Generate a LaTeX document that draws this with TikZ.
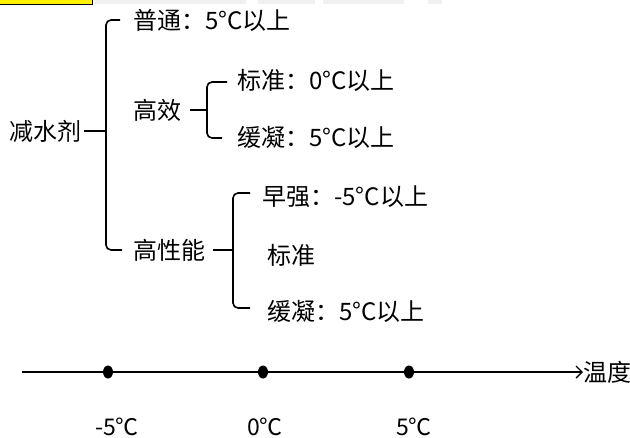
\documentclass[tikz,border=0pt]{standalone}
\usepackage{fontspec}
\setmainfont{Noto Sans CJK SC}
\usetikzlibrary{arrows.meta,shapes.geometric}
\begin{document}
\begin{tikzpicture}[x=1pt,y=-1pt,
  lbl/.style={anchor=west,inner sep=0pt,font=\fontsize{24}{28}\selectfont},
  axlbl/.style={anchor=center,inner sep=0pt,font=\fontsize{23}{27}\selectfont},
  brk/.style={line width=1.6pt,rounded corners=5pt},
  dotn/.style={ellipse,fill=black,inner sep=0pt,minimum width=10pt,minimum height=13pt},
  axis/.style={line width=1.6pt,-{Straight Barb[length=6pt,width=12pt,line width=1.4pt]}}]
\useasboundingbox (0,0) rectangle (630,437);
% top strip
\fill[gray!12] (95,-1) rectangle (246,4);
\fill[gray!12] (258,-1) rectangle (315,4);
\fill[gray!12] (323,-1) rectangle (404,4);
\fill[gray!12] (428,-1) rectangle (442,4);
\draw[fill=yellow,line width=1pt] (-2,-2) rectangle (92,4);
% labels
\node[lbl] (root) at (9,131) {减水剂};
\node[lbl] (pt) at (133,20) {普通：5°C以上};
\node[lbl] (gx) at (133,110) {高效};
\node[lbl] (gx1) at (237,80) {标准：0°C以上};
\node[lbl] (gx2) at (237,137) {缓凝：5°C以上};
\node[lbl] (gxn) at (133,250) {高性能};
\node[lbl] (h1) at (262,197) {早强：-5°C以上};
\node[lbl] (h2) at (267,255) {标准};
\node[lbl] (h3) at (267,311) {缓凝：5°C以上};
% spine coordinates
\coordinate (s0) at (106,131);
\coordinate (s1) at (207,110);
\coordinate (s2) at (233,250);
% main bracket
\draw[brk] ([xshift=-13pt]pt.west) -| (s0) |- ([xshift=-11pt]gxn.west);
\draw[line width=1.6pt] ([xshift=3pt]root.east) -- (s0);
% 高效 brace
\draw[brk] ([xshift=-10pt]gx1.west |- 0,82) -| (s1) |- ([xshift=-15pt]gx2.west |- 0,138);
\draw[line width=1.6pt] ([xshift=9pt]gx.east) -- (s1);
% 高性能 brace
\draw[brk] ([xshift=-12pt]h1.west |- 0,193) -| (s2) |- ([xshift=-17pt]h3.west |- 0,308);
\draw[line width=1.6pt] ([xshift=8pt]gxn.east) -- (s2);
% axis
\coordinate (a0) at (22,372);
\node[lbl] (temp) at (583,372) {温度};
\draw[axis] (a0) -- (temp.west);
\node[dotn] (d1) at (108,372) {};
\node[dotn] (d2) at (263,372) {};
\node[dotn] (d3) at (409,372) {};
\node[axlbl] (l1) at (117,427) {-5℃};
\node[axlbl] (l2) at (265,427) {0℃};
\node[axlbl] (l3) at (414,427) {5℃};
\end{tikzpicture}
\end{document}
